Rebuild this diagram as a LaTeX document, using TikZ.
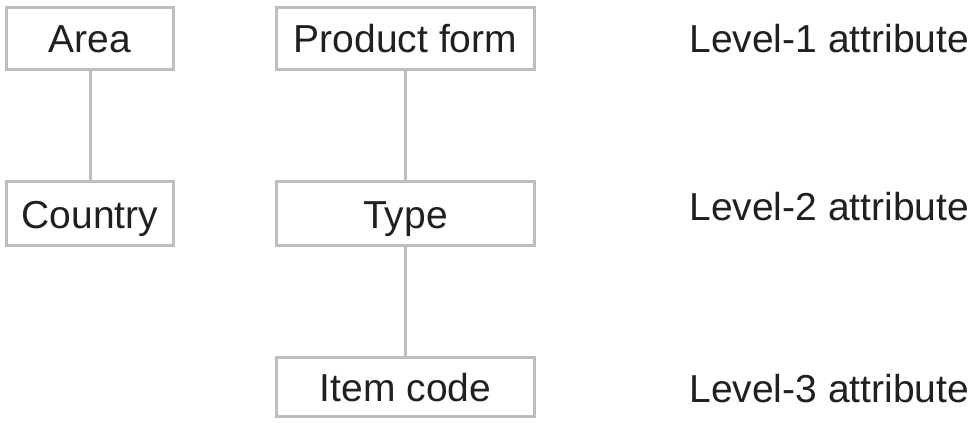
\documentclass[tikz,border=0pt]{standalone}
\usepackage{fontspec}
\setmainfont{Liberation Sans}
\definecolor{boxgray}{HTML}{BCBEC0}
\definecolor{ink}{HTML}{231F20}
\begin{document}
\begin{tikzpicture}[x=0.5pt,y=-0.5pt,
  attrbox/.style={draw=boxgray, line width=1.5pt, inner sep=0pt, outer sep=0pt,
    text=ink, text height=14.5pt, text depth=0pt,
    font=\fontsize{19.5pt}{23pt}\selectfont},
  link/.style={draw=boxgray, line width=1.5pt},
  levellabel/.style={anchor=base west, inner sep=0pt, text=ink,
    font=\fontsize{19.5pt}{23pt}\selectfont}]
\useasboundingbox (0,0) rectangle (975,423);
% geography hierarchy
\node[attrbox, minimum width=83.5pt, minimum height=31pt] (area) at (90,38.5) {Area};
\node[attrbox, minimum width=83.5pt, minimum height=32pt] (country) at (90,213.5) {Country};
% product hierarchy
\node[attrbox, minimum width=129pt, minimum height=31pt] (form) at (405.5,38.5) {Product form};
\node[attrbox, minimum width=129pt, minimum height=32pt] (type) at (405.5,213.5) {Type};
\node[attrbox, minimum width=129pt, minimum height=29.5pt] (item) at (405.5,387) {Item code};
% links between levels
\draw[link] (area.south) -- (country.north);
\draw[link] (form.south) -- (type.north);
\draw[link] (type.south) -- (item.north);
% level captions
\node[levellabel] (lv1) at (689,53) {Level-1 attribute};
\node[levellabel] (lv2) at (689,220) {Level-2 attribute};
\node[levellabel] (lv3) at (689,402) {Level-3 attribute};
\end{tikzpicture}
\end{document}
